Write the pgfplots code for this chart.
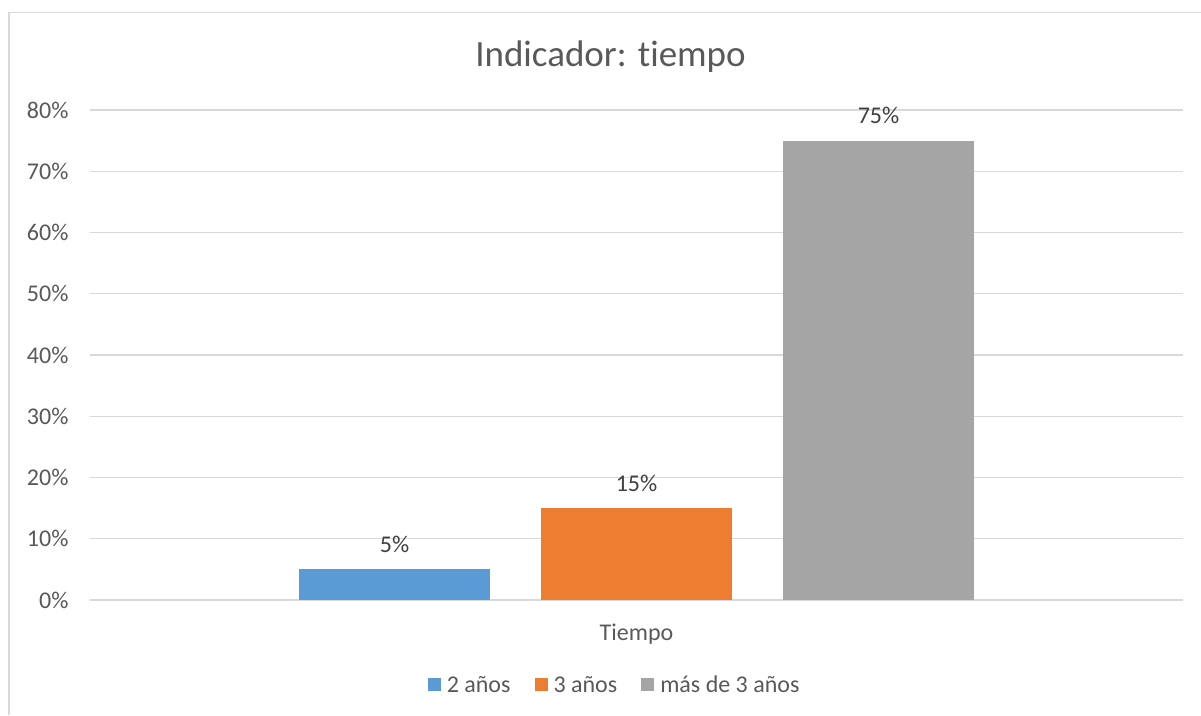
\documentclass[border=0pt]{standalone}
\usepackage{pgfplots}
\pgfplotsset{compat=1.18}
\usepackage{fontspec}
\setmainfont{Carlito}[Ligatures=NoCommon]
\definecolor{cblue}{HTML}{5B9BD5}
\definecolor{corange}{HTML}{ED7D31}
\definecolor{cgray}{HTML}{A5A5A5}
\definecolor{gridc}{HTML}{D9D9D9}
\definecolor{txt}{HTML}{595959}
\definecolor{lab}{HTML}{404040}
\begin{document}
\begin{tikzpicture}
\path[use as bounding box] (0pt,0pt) rectangle (1201pt,715pt);
\draw[gridc, line width=1.5pt] (9pt,0pt) -- (9pt,702.5pt) -- (1201pt,702.5pt);
\node[txt, font=\fontsize{37}{44}\selectfont] at (610.5pt,658pt) {Indicador: tiempo};
\begin{axis}[
  at={(90pt,115pt)}, anchor=south west,
  width=1093pt, height=490pt, scale only axis,
  xmin=90, xmax=1183, ymin=0, ymax=80,
  ybar, bar width=191pt,
  axis line style={draw=none},
  major tick style={draw=none},
  ytick={0,10,...,80},
  ymajorgrids, grid style={gridc, line width=1.2pt},
  /pgf/number format/assume math mode=true,
  yticklabel={\pgfmathprintnumber{\tick}\%},
  yticklabel style={txt, font=\fontsize{24}{28}\selectfont, anchor=east, xshift=-18pt},
  xtick={636.5}, xticklabels={Tiempo},
  xticklabel style={txt, font=\fontsize{24}{28}\selectfont, anchor=center, yshift=-30pt},
  nodes near coords={\pgfmathprintnumber{\pgfplotspointmeta}\%},
  nodes near coords style={lab, font=\fontsize{24}{28}\selectfont, anchor=base, yshift=17pt},
  legend columns=3,
  legend style={at={(axis description cs:0.48,-0.1735)}, anchor=center, draw=none,
    font=\fontsize{24}{28}\selectfont, text=txt,
    /tikz/every odd column/.append style={column sep=4pt},
    /tikz/every even column/.append style={column sep=22pt}},
  legend image code/.code={\fill[#1] (0pt,-6pt) rectangle (13pt,7pt);},
]
\addplot[fill=cblue, draw=none, bar shift=0pt] coordinates {(394.5,5)};
\addplot[fill=corange, draw=none, bar shift=0pt] coordinates {(636.5,15)};
\addplot[fill=cgray, draw=none, bar shift=0pt] coordinates {(878.5,75)};
\legend{2 años, 3 años, más de 3 años}
\end{axis}
\end{tikzpicture}
\end{document}
